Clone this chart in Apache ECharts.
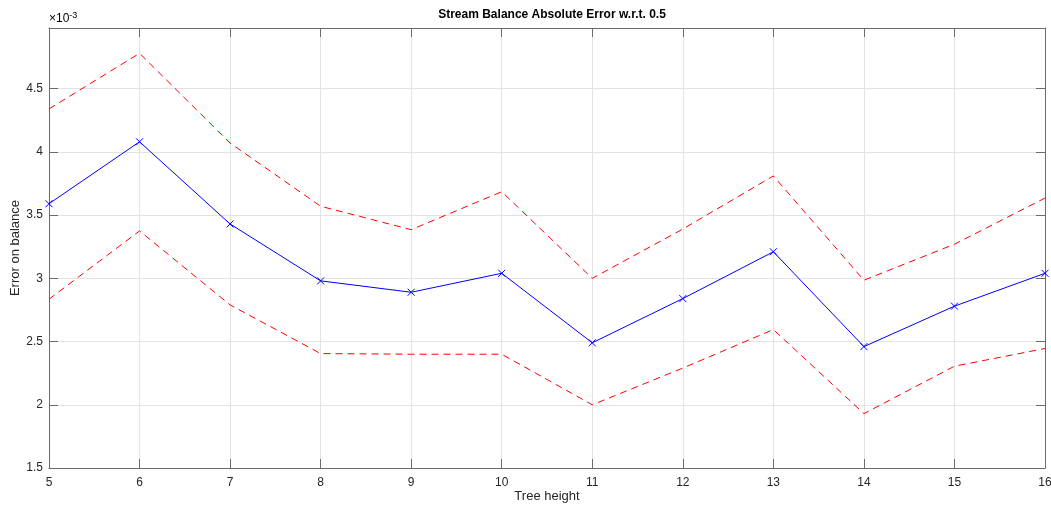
<!DOCTYPE html>
<html>
<head>
<meta charset="utf-8">
<script src="https://cdn.jsdelivr.net/npm/echarts@6/dist/echarts.min.js"></script>
<style>
  html, body { margin: 0; padding: 0; background: #fff; }
  #chart { width: 1051px; height: 506px; }
</style>
</head>
<body>
<div id="chart"></div>
<script>
// Tree heights on the x axis
const treeHeights = [5, 6, 7, 8, 9, 10, 11, 12, 13, 14, 15, 16];
// Mean absolute balance error (in units of 1e-3)
const meanError = [3.59, 4.08, 3.43, 2.98, 2.89, 3.04, 2.49, 2.84, 3.21, 2.46, 2.78, 3.04];
// Upper and lower bounds (in units of 1e-3)
const upperBound = [4.34, 4.78, 4.07, 3.57, 3.385, 3.685, 3.0, 3.39, 3.81, 2.985, 3.27, 3.635];
const lowerBound = [2.835, 3.375, 2.79, 2.405, 2.4, 2.4, 2.0, 2.29, 2.595, 1.93, 2.305, 2.445];
// Y tick labels
const yTicks = [1.5, 2, 2.5, 3, 3.5, 4, 4.5];

const FONT = '"Liberation Sans", Arial, sans-serif';
const AXIS_COLOR = '#6b6b6b';
const TEXT_COLOR = '#262626';
const GRID_COLOR = '#e3e3e3';

const pairs = (ys) => treeHeights.map((x, i) => [x, ys[i]]);

const chart = echarts.init(document.getElementById('chart'), null, { renderer: 'canvas' });

const baseAxisLine = { show: true, lineStyle: { color: AXIS_COLOR, width: 1 } };
const baseTick = { show: true, inside: true, length: 9, lineStyle: { color: AXIS_COLOR, width: 1 } };

chart.setOption({
  animation: false,
  backgroundColor: '#ffffff',
  title: {
    text: 'Stream Balance Absolute Error w.r.t. 0.5',
    left: 547,
    textAlign: 'center',
    top: 4,
    textStyle: { fontFamily: FONT, fontSize: 12, fontWeight: 'bold', color: '#000' }
  },
  grid: { left: 49, right: 6, top: 28, bottom: 38, containLabel: false, outerBoundsMode: 'none' },
  xAxis: [
    {
      type: 'value', min: 5, max: 16, interval: 1,
      name: 'Tree height', nameLocation: 'middle', nameGap: 22, nameMoveOverlap: false,
      nameTextStyle: { fontFamily: FONT, fontSize: 13, color: TEXT_COLOR },
      axisLine: baseAxisLine, axisTick: baseTick,
      axisLabel: { fontFamily: FONT, fontSize: 12, color: TEXT_COLOR, margin: 9 },
      splitLine: { show: true, lineStyle: { color: GRID_COLOR, width: 1 } }
    },
    {
      type: 'value', min: 5, max: 16, interval: 1, position: 'top',
      axisLine: baseAxisLine, axisTick: baseTick,
      axisLabel: { show: false }, splitLine: { show: false }
    }
  ],
  yAxis: [
    {
      type: 'value', min: 1.5, max: 4.98, interval: 0.5,
      name: 'Error on balance', nameLocation: 'middle', nameGap: 27, nameMoveOverlap: false,
      nameTextStyle: { fontFamily: FONT, fontSize: 13, color: TEXT_COLOR },
      axisLine: baseAxisLine, axisTick: baseTick,
      axisLabel: {
        fontFamily: FONT, fontSize: 12, color: TEXT_COLOR, margin: 6,
        showMaxLabel: false,
        formatter: (v) => (yTicks.some(t => Math.abs(t - v) < 1e-9) ? String(v) : '')
      },
      splitLine: { show: true, lineStyle: { color: GRID_COLOR, width: 1 } }
    },
    {
      type: 'value', min: 1.5, max: 4.98, interval: 0.5, position: 'right',
      axisLine: baseAxisLine, axisTick: baseTick,
      axisLabel: { show: false }, splitLine: { show: false }
    }
  ],
  graphic: [
    {
      type: 'text', left: 49, top: 11,
      style: {
        text: '{a|×10}{b|-3}',
        rich: {
          a: { fontFamily: FONT, fontSize: 12, color: TEXT_COLOR },
          b: { fontFamily: FONT, fontSize: 9, color: TEXT_COLOR, verticalAlign: 'top', padding: [0, 0, 7, 0] }
        }
      }
    }
  ],
  series: [
    {
      type: 'line', data: pairs(upperBound), symbol: 'none',
      lineStyle: { color: '#ff0000', width: 1, type: [7, 5] }, z: 3
    },
    {
      type: 'line', data: pairs(lowerBound), symbol: 'none',
      lineStyle: { color: '#ff0000', width: 1, type: [7, 5] }, z: 3
    },
    {
      type: 'line', data: pairs(meanError),
      symbol: 'path://M0,0L10,10M10,0L0,10', symbolSize: 7,
      itemStyle: { color: 'rgba(0,0,0,0)', borderColor: '#0000ff', borderWidth: 1 },
      lineStyle: { color: '#0000ff', width: 1 }, z: 4
    }
  ]
});
</script>
</body>
</html>
